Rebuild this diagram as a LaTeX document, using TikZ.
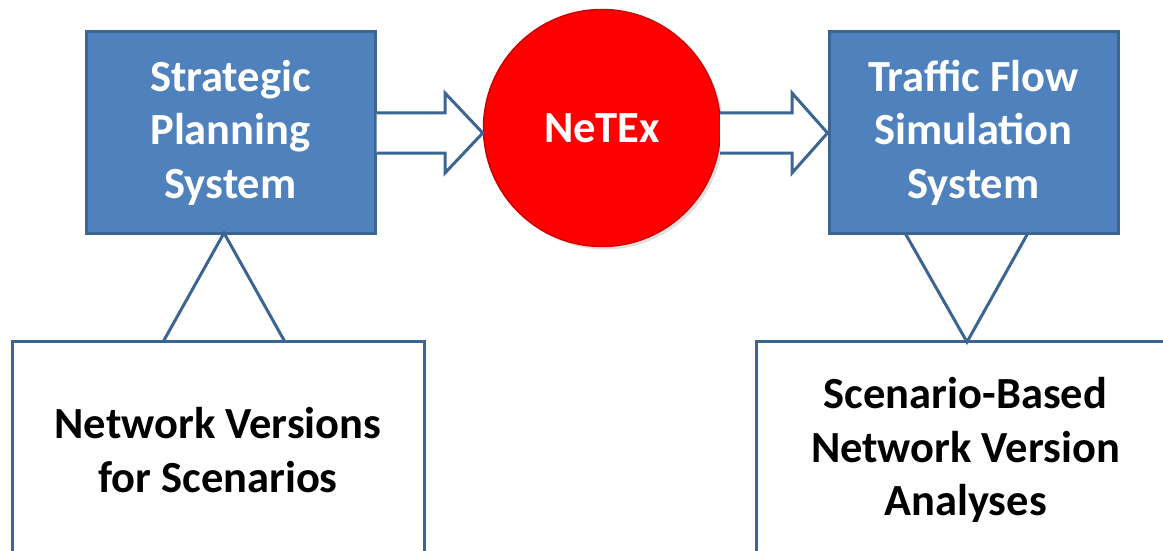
\documentclass[tikz,border=0pt]{standalone}
\usepackage{fontspec}
\setmainfont{Carlito}
\usetikzlibrary{calc,shadows}
\definecolor{boxblue}{HTML}{4F81BD}
\definecolor{edgeblue}{HTML}{3B6593}
\definecolor{circred}{HTML}{FF0000}
\definecolor{circedge}{HTML}{D00000}
\tikzset{
  txt/.style={font=\fontsize{44.5}{53.5}\selectfont\bfseries, align=center},
  bluebox/.style={txt, draw=edgeblue, fill=boxblue, line width=3pt, text=white, inner sep=0pt},
  whitebox/.style={txt, draw=edgeblue, fill=white, line width=3pt, text=black, inner sep=0pt},
  conn/.style={draw=edgeblue, line width=3pt, line join=miter},
  bigarrow/.style={draw=edgeblue, fill=white, line width=3pt, line join=miter},
}
\begin{document}
\begin{tikzpicture}[x=1pt,y=-1pt]
\useasboundingbox (0,0) rectangle (1163,551);
\clip (0,0) rectangle (1163,551);
\fill[white] (0,0) rectangle (1163,551);

% bottom boxes (extend past the lower edge)
\node[whitebox, minimum width=412pt, minimum height=218pt] (nv) at (218,450) {Network Versions\\for Scenarios};
\node[whitebox, minimum width=419pt, minimum height=218pt] (sb) at (965.5,450) {Scenario-Based\\Network Version\\Analyses};

% top boxes
\node[bluebox, minimum width=289pt, minimum height=201pt] (spl) at (230.5,132.5) {Strategic\\Planning\\System};
\node[bluebox, minimum width=289pt, minimum height=201pt] (tfs) at (973.5,132.5) {Traffic Flow\\Simulation\\System};

% NeTEx circle
\node[circle, draw=circedge, fill=circred, line width=1.5pt, minimum size=237pt, inner sep=0pt,
      drop shadow={opacity=0.25, shadow xshift=3pt, shadow yshift=-3pt},
      txt, text=white] (netex) at (602,128) {NeTEx};

% triangle connectors
\coordinate (la) at (224,233);
\coordinate (lb1) at (163,342);
\coordinate (lb2) at (285,342);
\draw[conn] (lb1) -- (la) -- (lb2);
\coordinate (ra) at (967,342);
\coordinate (rt1) at (905,233);
\coordinate (rt2) at (1028,233);
\draw[conn] (rt1) -- (ra) -- (rt2);

% block arrows
\coordinate (a1s) at (spl.east |- 0,133);
\coordinate (a1t) at (netex.west |- 0,133);
\draw[bigarrow] ($(a1s)+(0,-20)$) -- (445,113) -- (445,93) -- (a1t) -- (445,173) -- (445,153) -- ($(a1s)+(0,20)$);
\coordinate (a2s) at (720,133);
\coordinate (a2t) at (tfs.west |- 0,133);
\draw[bigarrow] ($(a2s)+(0,-20)$) -- (792,113) -- (792,93) -- (a2t) -- (792,173) -- (792,153) -- ($(a2s)+(0,20)$);
\end{tikzpicture}
\end{document}
